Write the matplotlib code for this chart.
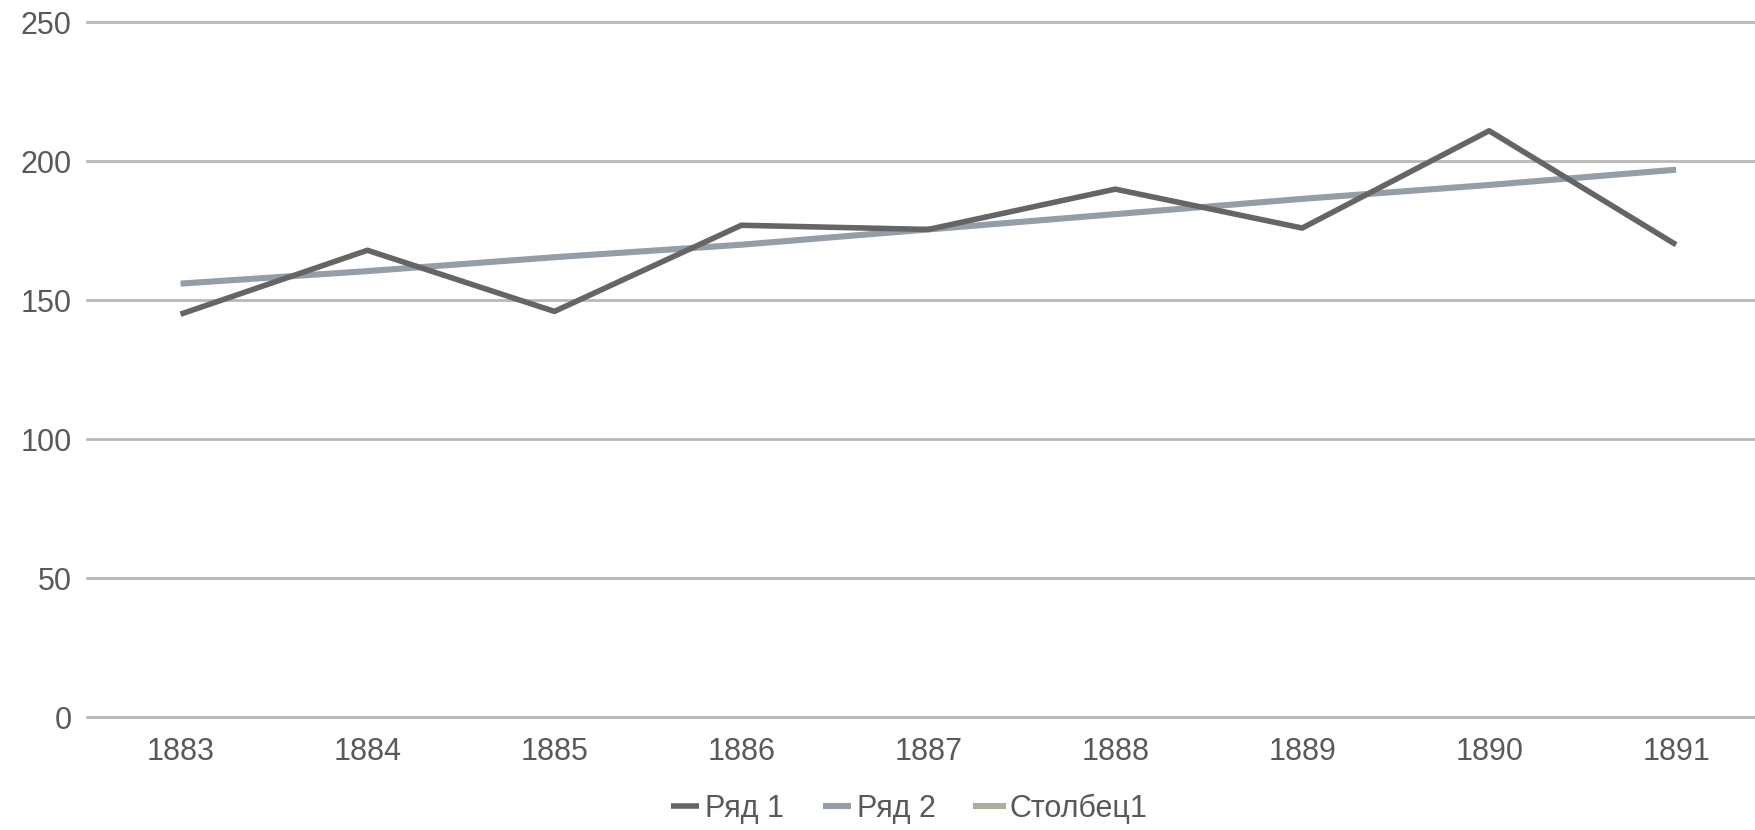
import matplotlib
matplotlib.use("Agg")
import matplotlib.pyplot as plt

plt.rcParams['font.family'] = ['Liberation Sans', 'DejaVu Sans']

# chart data
years = ['1883', '1884', '1885', '1886', '1887', '1888', '1889', '1890', '1891']
row1 = [145, 168, 146, 177, 175.5, 190, 176, 211, 170]
row2 = [156, 160.5, 165.5, 170, 175.5, 181, 186.5, 191.5, 197]
col1 = []  # empty series, only shown in legend

fig = plt.figure(figsize=(17.55, 8.3), dpi=100)
ax = fig.add_axes([0.0496, 0.136, 0.9587, 0.837])

x = list(range(len(years)))
ax.plot(x, row1, color='#656565', linewidth=4.0, label='Ряд 1', solid_capstyle='butt', zorder=3)
ax.plot(x, row2, color='#939ea8', linewidth=4.4, label='Ряд 2', solid_capstyle='butt', zorder=2)
ax.plot(col1, col1, color='#abb09d', linewidth=4.4, label='Столбец1')

ax.set_xlim(-0.5, len(years) - 0.5)
ax.set_ylim(0, 250)
ax.set_yticks([0, 50, 100, 150, 200, 250])
ax.set_xticks(x)
ax.set_xticklabels(years)

ax.grid(axis='y', color='#b8b8b8', linewidth=2.0, zorder=0)
# keep the 0 and 250 gridlines full width at the axes edges
for gl in ax.get_ygridlines():
    gl.set_clip_on(False)
ax.set_axisbelow(True)
for s in ax.spines.values():
    s.set_visible(False)
ax.tick_params(axis='both', length=0, labelsize=22, labelcolor='#595959')
ax.tick_params(axis='y', pad=11)
ax.tick_params(axis='x', pad=14)

fig.legend(loc='center', bbox_to_anchor=(0.518, 0.026), ncol=3, frameon=False,
           fontsize=22, handlelength=0.9, handletextpad=0.2, columnspacing=1.3,
           labelcolor='#595959')

fig.savefig('out.png', dpi=100)
